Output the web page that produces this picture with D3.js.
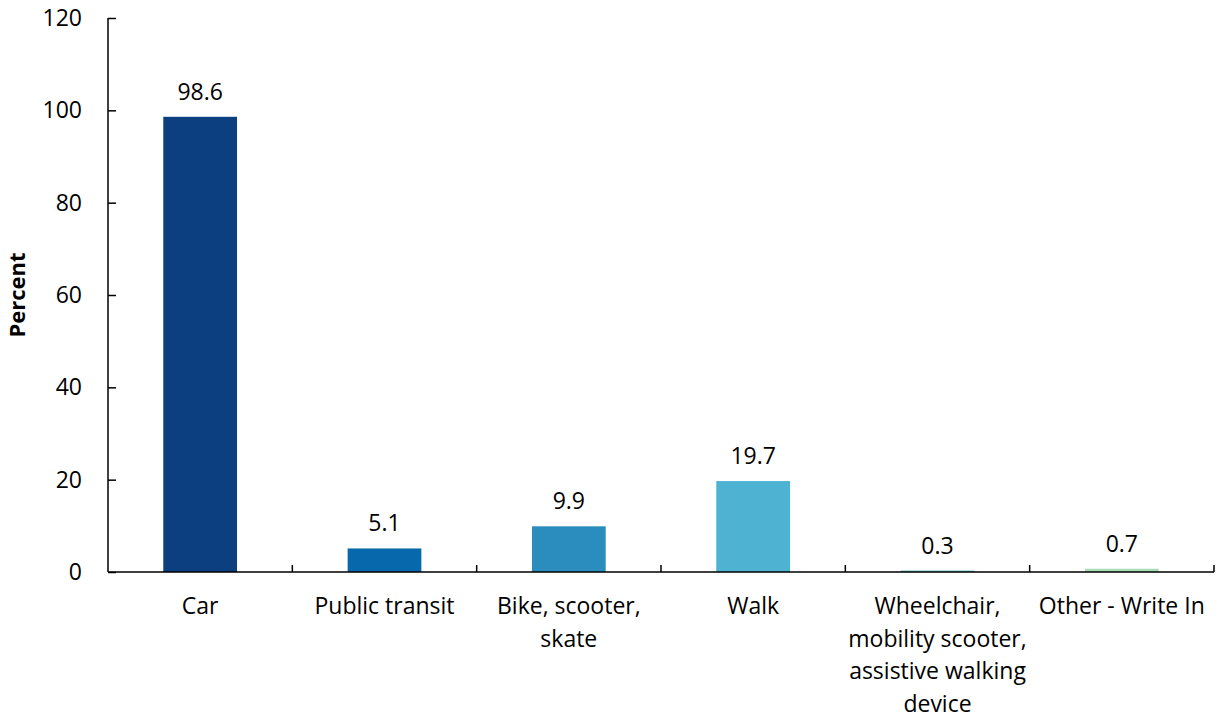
<!DOCTYPE html>
<html><head><meta charset="utf-8">
<script src="https://cdn.jsdelivr.net/npm/d3@7"></script>
<style>body{margin:0;background:#fff;} svg{display:block;font-family:"Open Sans",sans-serif;}</style>
</head><body><svg id="c" width="1217" height="718"></svg>
<script>
const categories = ["Car","Public transit","Bike, scooter, skate","Walk","Wheelchair, mobility scooter, assistive walking device","Other - Write In"];
const labelLines = [["Car"],["Public transit"],["Bike, scooter,","skate"],["Walk"],["Wheelchair,","mobility scooter,","assistive walking","device"],["Other - Write In"]];
const values = [98.6,5.1,9.9,19.7,0.3,0.7];
const colors = ["#0b3f7f","#0868ac","#2b8cbe","#4eb3d3","#4db6ac","#a8ddb5"];
const yTicks = [0,20,40,60,80,100,120];

const FS = 23;
const svg = d3.select("#c");
const m = {left:108, right:1214, top:18, bottom:572};
const x = d3.scaleBand().domain(categories).range([m.left,m.right]).paddingInner(0.6).paddingOuter(0.3);
const y = d3.scaleLinear().domain([0,120]).range([m.bottom,m.top]);

// bars
svg.selectAll("rect.bar").data(values).join("rect")
  .attr("x",(d,i)=>x(categories[i])).attr("width",x.bandwidth())
  .attr("y",d=>y(d)).attr("height",d=>y(0)-y(d)).attr("fill",(d,i)=>colors[i]);

// value labels
svg.selectAll("text.val").data(values).join("text")
  .attr("x",(d,i)=>x(categories[i])+x.bandwidth()/2).attr("y",d=>y(d)-17)
  .attr("text-anchor","middle").style("font-size",FS+"px").attr("fill","#000")
  .text(d=>d.toFixed(1));

// y axis
const ya = svg.append("g").attr("transform",`translate(${m.left},0)`)
  .call(d3.axisLeft(y).tickValues(yTicks).tickSize(-8).tickPadding(26));
ya.attr("font-size",null).attr("font-family",null);
ya.select(".domain").attr("stroke","#000").attr("stroke-width",1.5).attr("d",`M0,${m.top}V${m.bottom}`);
ya.selectAll(".tick line").attr("stroke","#000").attr("stroke-width",1.5);
ya.selectAll(".tick text").style("font-size",FS+"px").attr("fill","#000");

// x axis
const bounds = d3.range(categories.length+1).map(i=>m.left + i*(m.right-m.left)/categories.length);
const xg = svg.append("g");
xg.append("line").attr("x1",m.left).attr("x2",m.right).attr("y1",y(0)).attr("y2",y(0)).attr("stroke","#000").attr("stroke-width",1.5);
xg.selectAll("line.t").data(bounds.slice(1)).join("line")
  .attr("x1",d=>d).attr("x2",d=>d).attr("y1",y(0)).attr("y2",y(0)-7).attr("stroke","#000").attr("stroke-width",1.5);

// category labels
labelLines.forEach((lines,i)=>{
  const t = svg.append("text").attr("text-anchor","middle").style("font-size",FS+"px").attr("fill","#000");
  lines.forEach((l,j)=>{
    t.append("tspan").attr("x",x(categories[i])+x.bandwidth()/2).attr("y",614+j*32.5).text(l);
  });
});

// y title
svg.append("text").attr("transform","translate(25,295) rotate(-90)").attr("text-anchor","middle")
  .style("font-size","22px").attr("font-weight","bold").attr("fill","#000").text("Percent");
</script></body></html>
